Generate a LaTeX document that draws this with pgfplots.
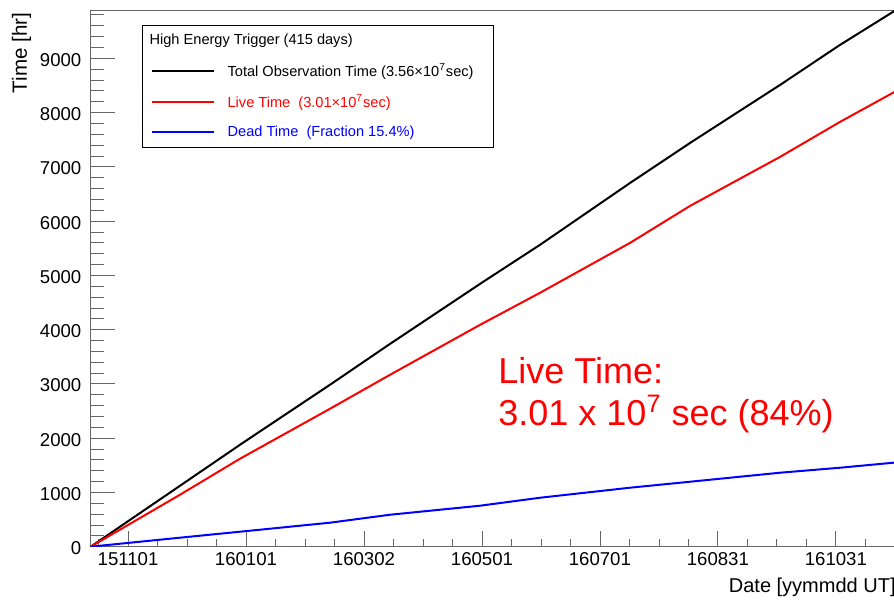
\documentclass[border=0pt]{standalone}
\usepackage{fontspec}
\setmainfont{Liberation Sans}
\usepackage{pgfplots}
\pgfplotsset{compat=1.18}

% days counted from 2015-11-01, hours on y
\pgfplotstableread{
d      tot   live  dead
-19.3  0     0     0
26.9   1123  958   166
57.9   1878  1621  276
104.4  2983  2541  442
135.5  3738  3168  589
182.0  4843  4088  755
213.0  5562  4678  902
259.6  6703  5599  1087
290.6  7440  6280  1197
337.1  8508  7182  1363
368.1  9245  7827  1455
397.1  9890  8395  1552
}\hetrig

\begin{document}
\begin{tikzpicture}
\begin{axis}[
  scale only axis, width=402.65pt, height=268pt,
  xmin=-19.3, xmax=397.1, ymin=0, ymax=9877,
  xtick={0,61,122,183,244,305,366},
  xticklabels={151101,160101,160302,160501,160701,160831,161031},
  minor xtick={-15.25,0,...,396.5},
  ytick={0,1000,...,9000},
  minor ytick={0,200,...,9800},
  tick align=inside, major tick length=10pt, minor tick length=5pt,
  tick style={black!60, line width=0.4pt},
  xtick style={/pgfplots/major tick length=8pt, /pgfplots/minor tick length=3.7pt},
  ytick style={/pgfplots/major tick length=12pt, /pgfplots/minor tick length=6.5pt},
  y axis line style={black!60},
  xtick pos=bottom, ytick pos=left,
  /pgf/number format/assume math mode=true,
  /pgf/number format/set thousands separator={},
  ticklabel style={font=\fontsize{9.3}{11}\selectfont},
  xticklabel style={inner sep=0pt, yshift=-2.5pt},
  yticklabel style={inner sep=0pt, xshift=-4.5pt, yshift=-0.8pt},
  xlabel={Date [yymmdd UT]},
  xlabel style={at={(axis description cs:1,0)}, anchor=north east, inner sep=0pt, yshift=-15.5pt, font=\fontsize{10}{12}\selectfont},
  ylabel={Time [hr]},
  ylabel style={at={(axis description cs:-0.086,0.997)}, anchor=east, inner sep=0pt, font=\fontsize{10.3}{12}\selectfont},
  legend cell align=left,
  legend image code/.code={\draw[#1, line width=1pt] (0pt,0pt) -- (31pt,0pt);},
  legend style={at={(axis description cs:0,1)}, anchor=north west, xshift=25.7pt, yshift=-7.4pt,
    draw=black, line width=0.5pt, font=\fontsize{7.3}{8}\selectfont,
    inner xsep=4pt, inner ysep=3.2pt, row sep=5.6pt, column sep=5.5pt,
    nodes={inner sep=1pt}},
]
\addlegendimage{empty legend}
\addlegendentry{\hspace{-39pt}High Energy Trigger (415 days)}
\addplot[black, line width=1pt] table[x=d, y=tot] {\hetrig};
\addlegendentry{Total Observation Time (3.56×10\textsuperscript{7}sec)\rule{5pt}{0pt}}
\addplot[red, line width=1pt] table[x=d, y=live] {\hetrig};
\addlegendentry{\textcolor{red}{Live Time\ \ (3.01×10\textsuperscript{7}sec)}}
\addplot[blue, line width=1pt] table[x=d, y=dead] {\hetrig};
\addlegendentry{\textcolor{blue}{Dead Time\ \ (Fraction 15.4\%)}}
\node[anchor=north west, inner sep=0pt, align=left, text=red, font=\fontsize{18}{21}\selectfont]
  at (axis cs:191.3,3499) {Live Time:\\3.01 x 10\textsuperscript{7} sec (84\%)};
\end{axis}
\pgfresetboundingbox
\useasboundingbox ([xshift=-45.35pt,yshift=-28pt]current axis.south west) rectangle ([xshift=-1pt,yshift=5.35pt]current axis.north east);
\end{tikzpicture}
\end{document}
